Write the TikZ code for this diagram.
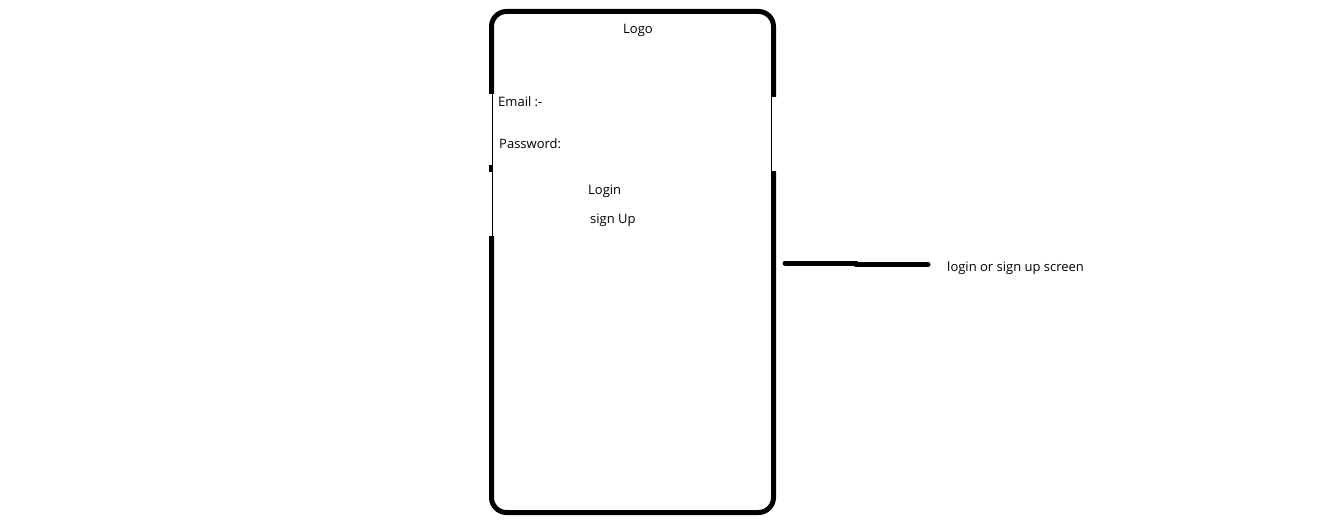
\documentclass[tikz,border=0pt]{standalone}
\usepackage{fontspec}
\setmainfont{Open Sans}
\begin{document}
\begin{tikzpicture}[x=1pt,y=-1pt,
  lbl/.style={font=\fontsize{13}{15}\selectfont, inner sep=0pt, text=black},
  thickline/.style={line width=5pt, black},
  thinline/.style={line width=1.4pt, black}]
\useasboundingbox (0,0) rectangle (1341,532);
\fill[white] (0,0) rectangle (1341,532);
% phone outline
\draw[thickline, rounded corners=15pt] (491.5,11.5) rectangle (773.5,512.5);
% pasted region covering the edges
\fill[white] (486,94) rectangle (497,236);
\fill[white] (768,97) rectangle (779,171);
\draw[thinline] (492.3,94) -- (492.3,236);
\draw[line width=3pt] (490.5,165) -- (490.5,172);
\draw[thinline] (771.7,97) -- (771.7,171);
% texts
\node[lbl] (logo) at (638,30) {Logo};
\node[lbl, anchor=west] (email) at (498,102) {Email :-};
\node[lbl, anchor=west] (pwd) at (499,144) {Password:};
\node[lbl, anchor=west] (login) at (588,191) {Login};
\node[lbl, anchor=west] (signup) at (590,220) {sign Up};
\node[lbl, anchor=west] (caption) at (947,268) {login or sign up screen};
% connector
\coordinate (c1) at (785,263);
\coordinate (c2) at (856,263);
\coordinate (c3) at (856,264.5);
\coordinate (c4) at (928,264.5);
\draw[thickline, line cap=round] (c1) -- (c2);
\draw[thickline, line cap=round] (c3) -- (c4);
\end{tikzpicture}
\end{document}
